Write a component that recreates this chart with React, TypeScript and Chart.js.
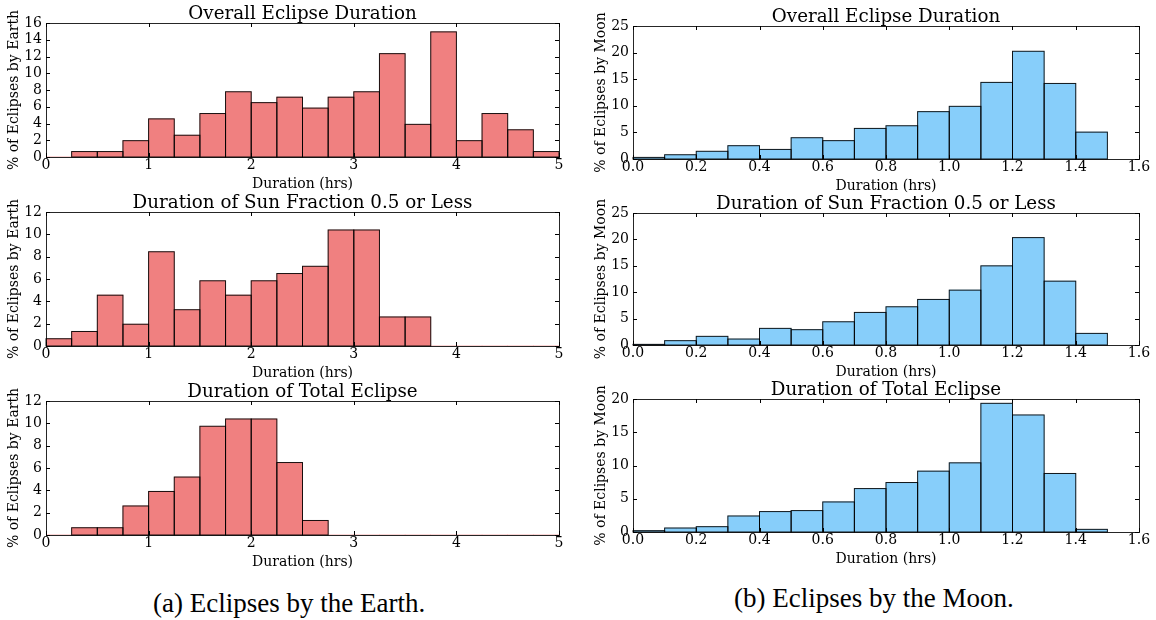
import React, { useEffect, useRef } from "react";
import { Chart, registerables } from "chart.js";

Chart.register(...registerables);

// ---------- data ----------
const EARTH_BINS = [0, 0.25, 0.5, 0.75, 1, 1.25, 1.5, 1.75, 2, 2.25, 2.5, 2.75, 3, 3.25, 3.5, 3.75, 4, 4.25, 4.5, 4.75];
const EARTH_BIN_WIDTH = 0.25;
const EARTH_OVERALL = [0, 0.65, 0.65, 1.95, 4.55, 2.6, 5.19, 7.79, 6.49, 7.14, 5.84, 7.14, 7.79, 12.34, 3.9, 14.94, 1.95, 5.19, 3.25, 0.65];
const EARTH_SUN_HALF = [0.65, 1.3, 4.55, 1.95, 8.44, 3.25, 5.84, 4.55, 5.84, 6.49, 7.14, 10.39, 10.39, 2.6, 2.6, 0, 0, 0, 0, 0];
const EARTH_TOTAL = [0, 0.65, 0.65, 2.6, 3.9, 5.19, 9.74, 10.39, 10.39, 6.49, 1.3, 0, 0, 0, 0, 0, 0, 0, 0, 0];

const MOON_BINS = [0, 0.1, 0.2, 0.3, 0.4, 0.5, 0.6, 0.7, 0.8, 0.9, 1.0, 1.1, 1.2, 1.3, 1.4];
const MOON_BIN_WIDTH = 0.1;
const MOON_OVERALL = [0.3, 0.8, 1.45, 2.5, 1.8, 4.0, 3.45, 5.75, 6.25, 8.9, 9.9, 14.4, 20.25, 14.2, 5.05];
const MOON_SUN_HALF = [0.12, 0.82, 1.64, 1.13, 3.15, 2.9, 4.4, 6.17, 7.24, 8.63, 10.39, 14.99, 20.34, 12.09, 2.2];
const MOON_TOTAL = [0.2, 0.6, 0.8, 2.41, 3.07, 3.22, 4.52, 6.53, 7.44, 9.15, 10.4, 19.35, 17.6, 8.8, 0.4];

const TITLES = ["Overall Eclipse Duration", "Duration of Sun Fraction 0.5 or Less", "Duration of Total Eclipse"];
const X_TITLE = "Duration (hrs)";
const EARTH_Y_TITLE = "% of Eclipses by Earth";
const MOON_Y_TITLE = "% of Eclipses by Moon";
const CAPTION_A = "(a) Eclipses by the Earth.";
const CAPTION_B = "(b) Eclipses by the Moon.";

// ---------- styling ----------
const SERIF = "'DejaVu Serif', serif";
const RED = "#F08080";
const BLUE = "#87CEFA";
const TITLE_SIZE = 18.3;
const LABEL_SIZE = 14;
const TICK_SIZE = 14;

Chart.defaults.color = "#000";
Chart.defaults.font.family = SERIF;

const frameAndBars = {
  id: "frameAndBars",
  afterDatasetsDraw(chart: any) {
    const { ctx } = chart;
    ctx.save();
    ctx.strokeStyle = "rgba(0,0,0,0.9)";
    ctx.lineWidth = 1;
    const meta = chart.getDatasetMeta(0);
    meta.data.forEach((el: any, i: number) => {
      const v = chart.data.datasets[0].data[i].y;
      if (!v) return;
      const { x, y, base, width } = el.getProps(["x", "y", "base", "width"], true);
      ctx.strokeRect(x - width / 2, y, width, base - y);
    });
    ctx.restore();
  },
  afterDraw(chart: any) {
    const { ctx, chartArea: a, scales } = chart;
    const xs = scales.x;
    const ys = scales.y;
    const len = 4;
    ctx.save();
    ctx.strokeStyle = "#000";
    ctx.lineWidth = 1;
    ctx.beginPath();
    xs.ticks.forEach((t: any) => {
      const px = Math.round(xs.getPixelForValue(t.value)) + 0.5;
      ctx.moveTo(px, a.bottom);
      ctx.lineTo(px, a.bottom - len);
      ctx.moveTo(px, a.top);
      ctx.lineTo(px, a.top + len);
    });
    ys.ticks.forEach((t: any) => {
      const py = Math.round(ys.getPixelForValue(t.value)) + 0.5;
      ctx.moveTo(a.left, py);
      ctx.lineTo(a.left + len, py);
      ctx.moveTo(a.right, py);
      ctx.lineTo(a.right - len, py);
    });
    ctx.stroke();
    ctx.strokeStyle = "rgba(0,0,0,0.85)";
    ctx.strokeRect(Math.round(a.left) + 0.5, Math.round(a.top) + 0.5, Math.round(a.right - a.left), Math.round(a.bottom - a.top));
    ctx.restore();
  },
};

type SubplotProps = {
  title: string;
  yTitle: string;
  bins: number[];
  binWidth: number;
  values: number[];
  color: string;
  xMax: number;
  xStep: number;
  xDecimals: number;
  yMax: number;
  yStep: number;
  rect: [number, number, number, number];
  yAxisWidth: number;
  yTitleX: number;
};

function Subplot(p: SubplotProps) {
  const ref = useRef<HTMLCanvasElement>(null);
  const [L, T, R, B] = p.rect;
  const YW = p.yAxisWidth;
  const TH = 26;
  const XH = 38;
  const RP = 20;
  const left = L - YW;
  const top = T - TH;
  const width = R - L + YW + RP;
  const height = B - T + TH + XH;

  useEffect(() => {
    const titleBottomPad = 9 - TITLE_SIZE / 2;
    const chart = new Chart(ref.current as HTMLCanvasElement, {
      type: "bar",
      data: {
        datasets: [
          {
            data: p.bins.map((b, i) => ({ x: b + p.binWidth / 2, y: p.values[i] })),
            backgroundColor: p.color,
            borderWidth: 0,
            barPercentage: 1,
            categoryPercentage: 1,
          } as any,
        ],
      },
      options: {
        responsive: false,
        animation: false,
        events: [],
        layout: { padding: { left: 0, top: 0, right: RP, bottom: 0 } },
        plugins: {
          legend: { display: false },
          tooltip: { enabled: false },
          title: {
            display: true,
            fullSize: false,
            text: p.title,
            color: "#000",
            font: { family: SERIF, size: TITLE_SIZE, weight: "normal", lineHeight: 1 },
            padding: { top: TH - TITLE_SIZE - titleBottomPad, bottom: titleBottomPad },
          },
        },
        scales: {
          x: {
            type: "linear",
            min: 0,
            max: p.xMax,
            offset: false,
            grid: { display: false, drawTicks: false },
            border: { display: false },
            ticks: {
              stepSize: p.xStep,
              autoSkip: false,
              maxRotation: 0,
              padding: 8.4 - TICK_SIZE / 2,
              color: "#000",
              font: { family: SERIF, size: TICK_SIZE, lineHeight: 1 },
              callback: (v: any) => Number(v).toFixed(p.xDecimals),
            },
            title: {
              display: true,
              text: X_TITLE,
              color: "#000",
              font: { family: SERIF, size: LABEL_SIZE, lineHeight: 1 },
              padding: { top: 0, bottom: XH - 27.2 - LABEL_SIZE / 2 },
            },
            afterFit: (s: any) => {
              s.height = XH;
            },
          },
          y: {
            min: 0,
            max: p.yMax,
            grid: { display: false, drawTicks: false },
            border: { display: false },
            ticks: {
              stepSize: p.yStep,
              autoSkip: false,
              padding: 4,
              color: "#000",
              font: { family: SERIF, size: TICK_SIZE, lineHeight: 1 },
            },
            title: {
              display: true,
              text: p.yTitle,
              color: "#000",
              font: { family: SERIF, size: LABEL_SIZE, lineHeight: 1 },
              padding: { top: p.yTitleX - left - LABEL_SIZE / 2, bottom: 0 },
            },
            afterFit: (s: any) => {
              s.width = YW;
            },
          },
        },
      } as any,
      plugins: [frameAndBars],
    });
    return () => chart.destroy();
  }, []);

  return (
    <canvas
      ref={ref}
      width={width}
      height={height}
      style={{ position: "absolute", left, top, width, height }}
    />
  );
}

const LEFT_RECTS: [number, number, number, number][] = [
  [46, 23, 559, 157],
  [46, 212, 559, 346],
  [46, 401, 559, 535],
];
const RIGHT_RECTS: [number, number, number, number][] = [
  [633, 26, 1139, 159],
  [633, 213, 1139, 345],
  [633, 399, 1139, 532],
];

export default function App() {
  const earthSeries = [EARTH_OVERALL, EARTH_SUN_HALF, EARTH_TOTAL];
  const earthMax = [16, 12, 12];
  const moonSeries = [MOON_OVERALL, MOON_SUN_HALF, MOON_TOTAL];
  const moonMax = [25, 25, 20];
  return (
    <div style={{ position: "absolute", left: 0, top: 0, width: 1156, height: 620, background: "#fff", overflow: "hidden" }}>
      {earthSeries.map((vals, i) => (
        <Subplot
          key={"e" + i}
          title={TITLES[i]}
          yTitle={EARTH_Y_TITLE}
          bins={EARTH_BINS}
          binWidth={EARTH_BIN_WIDTH}
          values={vals}
          color={RED}
          xMax={5}
          xStep={1}
          xDecimals={0}
          yMax={earthMax[i]}
          yStep={2}
          rect={LEFT_RECTS[i]}
          yAxisWidth={46}
          yTitleX={14.5}
        />
      ))}
      {moonSeries.map((vals, i) => (
        <Subplot
          key={"m" + i}
          title={TITLES[i]}
          yTitle={MOON_Y_TITLE}
          bins={MOON_BINS}
          binWidth={MOON_BIN_WIDTH}
          values={vals}
          color={BLUE}
          xMax={1.6}
          xStep={0.2}
          xDecimals={1}
          yMax={moonMax[i]}
          yStep={5}
          rect={RIGHT_RECTS[i]}
          yAxisWidth={53}
          yTitleX={601.5}
        />
      ))}
      <div
        style={{
          position: "absolute",
          left: 153,
          top: 590,
          fontFamily: "'Liberation Serif', serif",
          fontSize: 27,
          lineHeight: "27px",
          whiteSpace: "nowrap",
          color: "#000",
        }}
      >
        {CAPTION_A}
      </div>
      <div
        style={{
          position: "absolute",
          left: 734,
          top: 585,
          fontFamily: "'Liberation Serif', serif",
          fontSize: 27,
          lineHeight: "27px",
          whiteSpace: "nowrap",
          color: "#000",
        }}
      >
        {CAPTION_B}
      </div>
    </div>
  );
}
